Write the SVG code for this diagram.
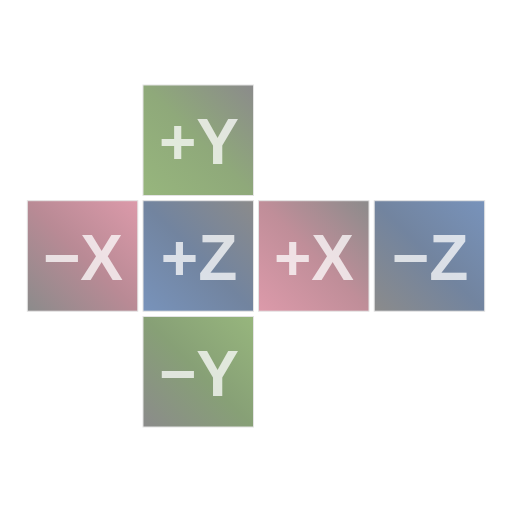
<svg xmlns="http://www.w3.org/2000/svg" width="512" height="512" viewBox="0 0 512 512">
<style>
.face{stroke:#e4e4e4;stroke-width:1}
.lbl{font-family:"Liberation Sans",Arial,sans-serif;font-weight:bold;font-size:64px;fill:#ffffff;fill-opacity:0.74;text-anchor:middle}
</style>
<defs>
<linearGradient id="gGreenGray" x1="0" y1="1" x2="1" y2="0"><stop offset="0" stop-color="#97b67d"/><stop offset="0.5" stop-color="#8fa97a"/><stop offset="1" stop-color="#8b8b8b"/></linearGradient>
<linearGradient id="gGrayGreen" x1="0" y1="1" x2="1" y2="0"><stop offset="0" stop-color="#8b8b8b"/><stop offset="0.5" stop-color="#87a076"/><stop offset="1" stop-color="#97b67d"/></linearGradient>
<linearGradient id="gGrayPink" x1="0" y1="1" x2="1" y2="0"><stop offset="0" stop-color="#8b8b8b"/><stop offset="0.5" stop-color="#b98a95"/><stop offset="1" stop-color="#dc9aaa"/></linearGradient>
<linearGradient id="gPinkGray" x1="0" y1="1" x2="1" y2="0"><stop offset="0" stop-color="#dc9aaa"/><stop offset="0.5" stop-color="#c08e99"/><stop offset="1" stop-color="#8b8b8b"/></linearGradient>
<linearGradient id="gBlueGray" x1="0" y1="1" x2="1" y2="0"><stop offset="0" stop-color="#7893bb"/><stop offset="0.5" stop-color="#72849f"/><stop offset="1" stop-color="#8b8b8b"/></linearGradient>
<linearGradient id="gGrayBlue" x1="0" y1="1" x2="1" y2="0"><stop offset="0" stop-color="#8b8b8b"/><stop offset="0.5" stop-color="#72849f"/><stop offset="1" stop-color="#7893bb"/></linearGradient>
</defs>
<g id="posY"><rect class="face" x="143" y="85" width="110.5" height="110.5" fill="url(#gGreenGray)"/><text class="lbl" x="199" y="164">+Y</text></g>
<g id="negX"><rect class="face" x="27.3" y="200.7" width="110.5" height="110.5" fill="url(#gGrayPink)"/><text class="lbl" x="83" y="280">−X</text></g>
<g id="posZ"><rect class="face" x="143" y="200.7" width="110.5" height="110.5" fill="url(#gBlueGray)"/><text class="lbl" x="199" y="280">+Z</text></g>
<g id="posX"><rect class="face" x="258.5" y="200.7" width="110.5" height="110.5" fill="url(#gPinkGray)"/><text class="lbl" x="314" y="280">+X</text></g>
<g id="negZ"><rect class="face" x="374.2" y="200.7" width="110.5" height="110.5" fill="url(#gGrayBlue)"/><text class="lbl" x="430" y="280">−Z</text></g>
<g id="negY"><rect class="face" x="143" y="316.5" width="110.5" height="110.5" fill="url(#gGrayGreen)"/><text class="lbl" x="199" y="396">−Y</text></g>
<g id="connectors"/>
</svg>
